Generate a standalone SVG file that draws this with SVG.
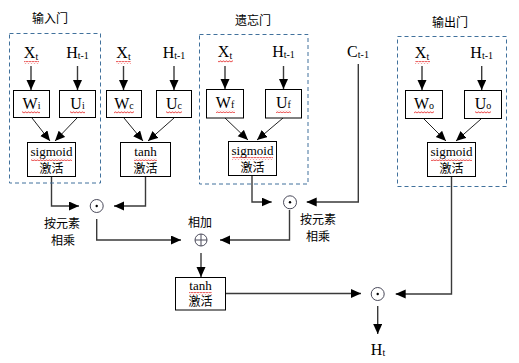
<svg xmlns="http://www.w3.org/2000/svg" width="519" height="363" viewBox="0 0 519 363">
<style>
.bg{fill:#fff}
.box{fill:#fff;stroke:#000;stroke-width:1}
.gate{fill:none;stroke:#41719c;stroke-width:1;stroke-dasharray:4,3}
.ln{fill:none;stroke:#3a3a3a;stroke-width:1.4}
.dg{fill:none;stroke:#222;stroke-width:1}
.tm{font-family:"Liberation Serif","Times New Roman",serif;font-size:16px;fill:#000;text-anchor:middle}
.sub{font-size:10px}
.fn{font-family:"Liberation Serif","Times New Roman",serif;font-size:13px;fill:#000;text-anchor:middle}
.cn{font-family:"Noto Sans CJK SC",sans-serif;font-size:12px;fill:#000;text-anchor:middle}
.op{fill:#fff;stroke:#4a4a5a;stroke-width:1}
.sq{fill:url(#squig)}
</style>
<defs>
<marker id="ah" markerUnits="userSpaceOnUse" markerWidth="10" markerHeight="10" refX="10" refY="4.5" orient="auto">
<path d="M0,0 L10,4.5 L0,9 Z" fill="#000"/>
</marker>
<pattern id="squig" patternUnits="userSpaceOnUse" width="3" height="3">
<path d="M0,2.3 L1.5,0.7 L3,2.3" fill="none" stroke="#e00000" stroke-width="0.8"/>
</pattern>
</defs>
<rect class="bg" x="0" y="0" width="519" height="363"/>

<g id="connectors">
<!-- input gate -->
<line class="ln" x1="31" y1="66" x2="31" y2="90" marker-end="url(#ah)"/>
<line class="ln" x1="77.5" y1="66" x2="77.5" y2="90" marker-end="url(#ah)"/>
<line class="dg" x1="32" y1="118" x2="50" y2="141" marker-end="url(#ah)"/>
<line class="dg" x1="77" y1="118" x2="55" y2="141" marker-end="url(#ah)"/>
<polyline class="ln" points="51.5,177 51.5,206 79,206" marker-end="url(#ah)"/>
<!-- candidate -->
<line class="ln" x1="123.5" y1="66" x2="123.5" y2="90" marker-end="url(#ah)"/>
<line class="ln" x1="174" y1="66" x2="174" y2="90" marker-end="url(#ah)"/>
<line class="dg" x1="124" y1="118" x2="143" y2="141" marker-end="url(#ah)"/>
<line class="dg" x1="174" y1="118" x2="148" y2="141" marker-end="url(#ah)"/>
<polyline class="ln" points="145.5,177 145.5,206 114,206" marker-end="url(#ah)"/>
<!-- forget gate -->
<line class="ln" x1="225" y1="66" x2="225" y2="89" marker-end="url(#ah)"/>
<line class="ln" x1="283.5" y1="66" x2="283.5" y2="89" marker-end="url(#ah)"/>
<line class="dg" x1="225" y1="118" x2="248" y2="140" marker-end="url(#ah)"/>
<line class="dg" x1="283" y1="118" x2="257" y2="140" marker-end="url(#ah)"/>
<polyline class="ln" points="252,176 252,202 271.7,202" marker-end="url(#ah)"/>
<polyline class="ln" points="358.3,64 358.3,202 306.7,202" marker-end="url(#ah)"/>
<!-- to add -->
<polyline class="ln" points="96.7,219 96.7,240 181,240" marker-end="url(#ah)"/>
<polyline class="ln" points="289.5,210 289.5,240 220,240" marker-end="url(#ah)"/>
<line class="ln" x1="201" y1="253" x2="201" y2="277" marker-end="url(#ah)"/>
<line class="ln" x1="225.7" y1="293.5" x2="361" y2="293.5" marker-end="url(#ah)"/>
<!-- output gate -->
<line class="ln" x1="422" y1="66" x2="422" y2="90" marker-end="url(#ah)"/>
<line class="ln" x1="481.7" y1="66" x2="481.7" y2="90" marker-end="url(#ah)"/>
<line class="dg" x1="424" y1="119" x2="446" y2="141" marker-end="url(#ah)"/>
<line class="dg" x1="481" y1="119" x2="456" y2="141" marker-end="url(#ah)"/>
<polyline class="ln" points="451.5,177 451.5,294 395.7,294" marker-end="url(#ah)"/>
<line class="ln" x1="377.7" y1="306" x2="377.7" y2="334" marker-end="url(#ah)"/>
</g>

<g id="input-gate">
<text class="cn" x="50" y="23">输入门</text>
<rect class="gate" x="9.5" y="33.5" width="91" height="149.5"/>
<text class="tm" x="31" y="58">X<tspan class="sub" dy="2">t</tspan></text>
<rect class="sq" x="24" y="61" width="15" height="3"/>
<text class="tm" x="77.5" y="58">H<tspan class="sub" dy="1">t-1</tspan></text>
<rect class="box" x="13.5" y="90.5" width="36" height="27"/>
<text class="tm" x="31.5" y="109">W<tspan class="sub">i</tspan></text>
<rect class="sq" x="22" y="111" width="18" height="3"/>
<rect class="box" x="59.5" y="90.5" width="36" height="27"/>
<text class="tm" x="77.5" y="109">U<tspan class="sub">i</tspan></text>
<rect class="sq" x="70" y="111" width="15" height="3"/>
<rect class="box" x="27.5" y="142.5" width="48" height="34"/>
<text class="fn" x="51.5" y="156">sigmoid</text>
<rect class="sq" x="31" y="158" width="41" height="3"/>
<text class="cn" x="51.5" y="173">激活</text>
</g>

<g id="candidate">
<text class="tm" x="123.5" y="58">X<tspan class="sub" dy="2">t</tspan></text>
<rect class="sq" x="116" y="61" width="15" height="3"/>
<text class="tm" x="174" y="58">H<tspan class="sub" dy="1">t-1</tspan></text>
<rect class="box" x="106.5" y="90.5" width="35" height="27"/>
<text class="tm" x="124" y="109">W<tspan class="sub">c</tspan></text>
<rect class="sq" x="114" y="111" width="20" height="3"/>
<rect class="box" x="156.5" y="90.5" width="35" height="27"/>
<text class="tm" x="174" y="109">U<tspan class="sub">c</tspan></text>
<rect class="sq" x="166" y="111" width="16" height="3"/>
<rect class="box" x="120.5" y="142.5" width="50" height="34"/>
<text class="fn" x="145.5" y="156">tanh</text>
<rect class="sq" x="134" y="158" width="23" height="3"/>
<text class="cn" x="145.5" y="173">激活</text>
</g>

<g id="forget-gate">
<text class="cn" x="253" y="25">遗忘门</text>
<rect class="gate" x="199.5" y="34.5" width="108.5" height="149.5"/>
<text class="tm" x="225" y="57">X<tspan class="sub" dy="2">t</tspan></text>
<rect class="sq" x="218" y="60" width="15" height="3"/>
<text class="tm" x="283.5" y="57">H<tspan class="sub" dy="1">t-1</tspan></text>
<rect class="box" x="206.5" y="89.5" width="37" height="28.5"/>
<text class="tm" x="225" y="108">W<tspan class="sub">f</tspan></text>
<rect class="sq" x="216" y="110" width="19" height="3"/>
<rect class="box" x="265.5" y="89.5" width="36" height="28.5"/>
<text class="tm" x="283.5" y="108">U<tspan class="sub">f</tspan></text>
<rect class="sq" x="276" y="110" width="15" height="3"/>
<rect class="box" x="228.5" y="141.5" width="48" height="34"/>
<text class="fn" x="252.5" y="155">sigmoid</text>
<rect class="sq" x="232" y="157" width="41" height="3"/>
<text class="cn" x="252.5" y="172">激活</text>
</g>

<g id="cell-prev">
<text class="tm" x="358" y="57">C<tspan class="sub" dy="1">t-1</tspan></text>
</g>

<g id="mul-1">
<circle class="op" cx="96.7" cy="206" r="6.5"/>
<circle cx="96.7" cy="206" r="1.2" fill="#000"/>
<text class="cn" x="62" y="228">按元素</text>
<text class="cn" x="63" y="245">相乘</text>
</g>

<g id="mul-2">
<circle class="op" cx="290" cy="202.3" r="6.5"/>
<circle cx="290" cy="202.3" r="1.2" fill="#000"/>
<text class="cn" x="318" y="224">按元素</text>
<text class="cn" x="318" y="241">相乘</text>
</g>

<g id="add">
<text class="cn" x="200" y="227">相加</text>
<circle class="op" cx="201" cy="240" r="6"/>
<line x1="195" y1="240" x2="207" y2="240" stroke="#4a4a5a" stroke-width="1"/>
<line x1="201" y1="234" x2="201" y2="246" stroke="#4a4a5a" stroke-width="1"/>
</g>

<g id="tanh-out">
<rect class="box" x="175.5" y="277.5" width="50" height="32.5"/>
<text class="fn" x="200.5" y="290">tanh</text>
<rect class="sq" x="189" y="292" width="23" height="3"/>
<text class="cn" x="200.5" y="306">激活</text>
</g>

<g id="output-gate">
<text class="cn" x="450" y="27">输出门</text>
<rect class="gate" x="397.5" y="36.5" width="109" height="150"/>
<text class="tm" x="422" y="58">X<tspan class="sub" dy="2">t</tspan></text>
<rect class="sq" x="415" y="61" width="15" height="3"/>
<text class="tm" x="481.7" y="58">H<tspan class="sub" dy="1">t-1</tspan></text>
<rect class="box" x="405.5" y="90.5" width="37" height="28"/>
<text class="tm" x="424" y="109">W<tspan class="sub">o</tspan></text>
<rect class="sq" x="414" y="111" width="20" height="3"/>
<rect class="box" x="464.5" y="90.5" width="37" height="28"/>
<text class="tm" x="483" y="109">U<tspan class="sub">o</tspan></text>
<rect class="sq" x="475" y="111" width="16" height="3"/>
<rect class="box" x="427.5" y="142.5" width="48" height="34"/>
<text class="fn" x="451.5" y="156">sigmoid</text>
<rect class="sq" x="431" y="158" width="41" height="3"/>
<text class="cn" x="451.5" y="173">激活</text>
</g>

<g id="mul-3">
<circle class="op" cx="377.7" cy="294" r="6.5"/>
<circle cx="377.7" cy="294" r="1.2" fill="#000"/>
<text class="tm" x="378" y="355">H<tspan class="sub" dy="1">t</tspan></text>
</g>
</svg>
